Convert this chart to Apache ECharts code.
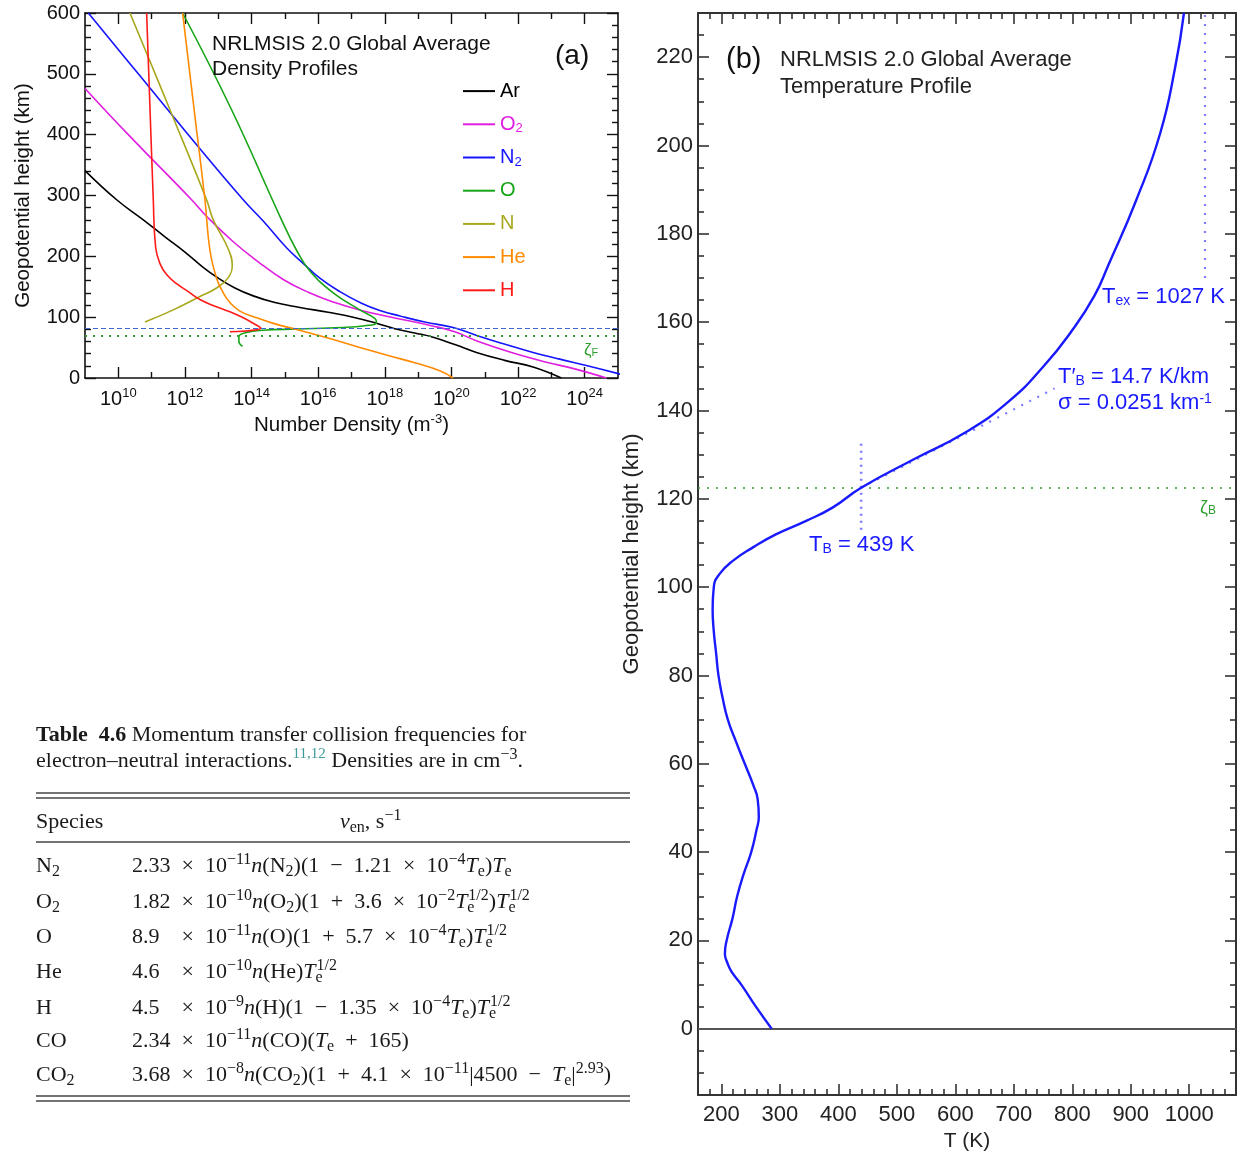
<!DOCTYPE html>
<html>
<head>
<meta charset="utf-8">
<script src="https://cdn.jsdelivr.net/npm/echarts@6/dist/echarts.min.js"></script>
<style>
  html, body { margin: 0; padding: 0; background: #fff; }
  #main { width: 1238px; height: 1153px; }
</style>
</head>
<body>
<div id="main"></div>
<script>
// (a) density profiles: [log10 n (m^-3), height km]
const species = ['Ar', 'O2', 'N2', 'O', 'N', 'He', 'H'];
const speciesColors = ['#000000', '#e01ee0', '#1414ff', '#18a418', '#a8a81c', '#ff8a00', '#ff1a1a'];

const ar = [[9.0,341],[9.95,293],[10.75,260],[11.4,232],[12.0,207],[12.5,184],[12.95,166],[13.5,148],[14.05,135],[14.7,124],[15.45,116],[16.3,108],[17.05,100],[17.75,90],[18.3,81],[18.9,74],[19.45,67],[20.1,55],[20.75,42],[21.6,29],[22.45,18],[23.3,0]];
const o2 = [[9.0,476],[10.3,400],[12.2,293],[12.7,263],[13.45,224],[14.2,191],[14.95,162],[15.7,141],[16.5,124],[17.3,111],[18.2,100],[19.4,86],[20.1,76],[20.85,59],[21.85,41],[22.85,26],[23.7,15],[24.65,0]];
const n2 = [[9.1,600],[10.6,500],[12.1,400],[13.75,293],[14.35,258],[15.05,214],[15.5,191],[16.05,164],[16.65,142],[17.3,123],[17.85,111],[18.45,102],[19.2,92],[20.05,83],[20.7,71],[21.45,58],[22.45,42],[23.25,31],[24.05,20.5],[24.95,8],[25.5,0]];
const o = [[11.93,600],[13.4,441],[14.9,260],[15.35,210],[15.75,176],[16.45,140],[17.25,112],[17.7,98],[17.75,91],[17.4,86],[16.7,83],[15.35,80.5],[14.35,78.5],[13.85,75],[13.62,68],[13.62,60],[13.73,52]];
const n = [[10.35,600],[11.55,441],[12.65,293],[12.85,260],[13.3,212],[13.42,185],[13.3,165],[12.95,148],[12.45,134],[11.65,112],[10.8,92]];
const he = [[11.93,600],[12.3,430],[12.6,293],[12.75,210],[12.95,164],[13.15,140],[13.35,124],[13.65,110],[14.1,100],[14.7,89],[15.4,79],[16.4,64],[17.2,51],[18.1,37],[18.9,25],[19.65,12],[20.05,0]];
const h = [[10.85,600],[11.05,293],[11.12,215],[11.25,188],[11.45,170],[11.75,155],[12.1,142],[12.45,129],[12.9,118],[13.35,109],[13.75,99],[14.05,90],[14.28,82],[13.35,76]];
const densities = [ar, o2, n2, o, n, he, h];
const turbopauseKm = 81;   // blue dashed
const zetaF = 69;          // green dotted

// (b) temperature profile: [T (K), height km]
const tempProfile = [[286,0],[259,5],[234,10],[217,13],[210,15],[206,17],[209,20],[219,25],[227,30],[238,35],[251,40],[260,45],[264,48],[262,52],[255,55],[240,60],[225,65],[211,70],[202,75],[195,80],[191,85],[187,90],[185,95],[187,100],[197,103],[220,106],[254,109],[294,112],[345,115],[390,118],[439,122.5],[530,129],[617,135],[691,142],[751,150],[799,158],[838,166],[862,173],[909,187.5],[950,202.6],[976,217.7],[991,230]];
const Tex = 1027, TB = 439, zetaB = 122.5, dTdz = 14.7;

// tick values
function range(a, b, step) { const out = []; for (let v = a; v <= b + 1e-9; v += step) out.push(+v.toFixed(4)); return out; }
const aMajorX = range(10, 24, 2);
const aMinorX = range(11, 23, 2);
const bMajorX = range(200, 1000, 100);
const bMinorX = range(180, 1060, 20).filter(v => v % 100 !== 0);
const bMajorY = range(0, 220, 20);
const bMinorY = range(-10, 225, 5).filter(v => v % 20 !== 0);

const FONT = 'Liberation Sans';
const SERIF = 'Liberation Serif';
const AX = '#111';

function axis(grid, pos, min, max, ticks, len, extra) {
    return Object.assign({
        type: 'value', gridIndex: grid, position: pos, min: min, max: max,
        axisLine: { show: true, onZero: false, lineStyle: { color: AX, width: 1.6 } },
        axisTick: { show: true, inside: true, length: len, customValues: ticks, lineStyle: { color: AX, width: 1.4 } },
        axisLabel: { show: false },
        splitLine: { show: false }
    }, extra || {});
}

const supRich = { s: { fontSize: 13, fontFamily: FONT, verticalAlign: 'top', lineHeight: 13, color: '#111' } };

const xAxes = [
    axis(0, 'bottom', 9, 25, aMajorX, 11, {
        axisLabel: { show: true, customValues: aMajorX, margin: 9, fontSize: 20, fontFamily: FONT, color: '#111', lineHeight: 25,
            formatter: v => '10{s|' + v + '}', rich: supRich },
        name: 'Number Density (m{s|-3})', nameLocation: 'middle', nameGap: 30,
        nameTextStyle: { fontSize: 20.5, fontFamily: FONT, color: '#111', lineHeight: 25, rich: supRich }
    }),
    axis(0, 'bottom', 9, 25, aMinorX, 6, { axisLine: { show: false, onZero: false } }),
    axis(0, 'top', 9, 25, aMajorX, 11),
    axis(0, 'top', 9, 25, aMinorX, 6, { axisLine: { show: false, onZero: false } }),
    axis(1, 'bottom', 160, 1080, bMajorX, 11, {
        axisLabel: { show: true, customValues: bMajorX, margin: 9, fontSize: 22, fontFamily: FONT, color: '#222',
            formatter: v => String(v) },
        name: 'T (K)', nameLocation: 'middle', nameGap: 33,
        nameTextStyle: { fontSize: 21, fontFamily: FONT, color: '#222' }
    }),
    axis(1, 'bottom', 160, 1080, bMinorX, 6, { axisLine: { show: false, onZero: false } }),
    axis(1, 'top', 160, 1080, bMajorX, 11),
    axis(1, 'top', 160, 1080, bMinorX, 6, { axisLine: { show: false, onZero: false } })
];
// panel (b) frame is slightly greyer
[4, 5, 6, 7].forEach(i => {
    xAxes[i].axisLine.lineStyle = { color: '#333', width: 2 };
    xAxes[i].axisTick.lineStyle = { color: '#333', width: 1.6 };
});

const yAxes = [
    {
        type: 'value', gridIndex: 0, position: 'left', min: 0, max: 600, interval: 100,
        axisLine: { show: true, onZero: false, lineStyle: { color: AX, width: 1.6 } },
        axisTick: { show: true, inside: true, length: 11, lineStyle: { color: AX, width: 1.4 } },
        minorTick: { show: true, splitNumber: 5, length: 6, lineStyle: { color: AX, width: 1.4 } },
        axisLabel: { show: true, margin: 5, fontSize: 20, fontFamily: FONT, color: '#111' },
        splitLine: { show: false },
        name: 'Geopotential height (km)', nameLocation: 'middle', nameRotate: 90, nameGap: 51,
        nameTextStyle: { fontSize: 20.5, fontFamily: FONT, color: '#111' }
    },
    {
        type: 'value', gridIndex: 0, position: 'right', min: 0, max: 600, interval: 100,
        axisLine: { show: true, onZero: false, lineStyle: { color: AX, width: 1.6 } },
        axisTick: { show: true, inside: true, length: 11, lineStyle: { color: AX, width: 1.4 } },
        minorTick: { show: true, splitNumber: 5, length: 6, lineStyle: { color: AX, width: 1.4 } },
        axisLabel: { show: false }, splitLine: { show: false }
    },
    axis(1, 'left', -15, 230, bMajorY, 11, {
        axisLabel: { show: true, customValues: bMajorY, margin: 5, fontSize: 22, fontFamily: FONT, color: '#222' },
        name: 'Geopotential height (km)', nameLocation: 'middle', nameRotate: 90, nameGap: 55,
        nameTextStyle: { fontSize: 22, fontFamily: FONT, color: '#222' }
    }),
    axis(1, 'left', -15, 230, bMinorY, 6, { axisLine: { show: false, onZero: false } }),
    axis(1, 'right', -15, 230, bMajorY, 11),
    axis(1, 'right', -15, 230, bMinorY, 6, { axisLine: { show: false, onZero: false } })
];
[2, 3, 4, 5].forEach(i => {
    yAxes[i].axisLine.lineStyle = { color: '#333', width: 2 };
    yAxes[i].axisTick.lineStyle = { color: '#333', width: 1.6 };
});

const BLUE = '#1a1aff';
const DOT_BLUE = '#7c7cff';
const GREEN = '#2e9e2e';

const series = species.map((s, i) => ({
    name: s, type: 'line', xAxisIndex: 0, yAxisIndex: 0,
    data: densities[i], showSymbol: false, smooth: 0.45, silent: true,
    lineStyle: { width: 1.6, color: speciesColors[i] },
    itemStyle: { color: speciesColors[i] }
}));
series[0].markLine = {
    symbol: 'none', silent: true, label: { show: false },
    data: [
        { yAxis: turbopauseKm, lineStyle: { type: [5, 3], color: '#4068cc', width: 1.2 } },
        { yAxis: zetaF, lineStyle: { type: [2, 6], color: GREEN, width: 2 } }
    ]
};

series.push({
    name: 'T', type: 'line', xAxisIndex: 4, yAxisIndex: 2,
    data: tempProfile, showSymbol: false, smooth: 0.5, silent: true, z: 5,
    lineStyle: { width: 2.4, color: BLUE },
    markLine: {
        symbol: 'none', silent: true, label: { show: false },
        data: [
            { yAxis: 0, lineStyle: { type: 'solid', color: '#555', width: 2.2 } },
            { yAxis: zetaB, lineStyle: { type: [2, 7], color: GREEN, width: 1.5 } }
        ]
    }
});
series.push({
    name: 'Tex', type: 'line', xAxisIndex: 4, yAxisIndex: 2, silent: true, showSymbol: false,
    data: [[Tex, 170], [Tex, 230]], lineStyle: { type: [2, 7], color: DOT_BLUE, width: 2.2 }
});
series.push({
    name: 'TB', type: 'line', xAxisIndex: 4, yAxisIndex: 2, silent: true, showSymbol: false,
    data: [[TB, 113], [TB, 133]], lineStyle: { type: [2, 5], color: DOT_BLUE, width: 2.6 }
});
series.push({
    name: 'slope', type: 'line', xAxisIndex: 4, yAxisIndex: 2, silent: true, showSymbol: false,
    data: [[TB, zetaB], [TB + dTdz * 22.5, zetaB + 22.5]], lineStyle: { type: [2, 7], color: DOT_BLUE, width: 2.2 }
});

// text helpers
function txt(x, y, text, opt) {
    return {
        type: 'text', x: x, y: y, z: 100, silent: true,
        style: Object.assign({ text: text, fontSize: 19, fontFamily: FONT, fill: '#111', verticalAlign: 'middle' }, opt || {})
    };
}
function sansRich(color, size) {
    return {
        sub: { fontSize: size || 14, fontFamily: FONT, fill: color, verticalAlign: 'bottom', lineHeight: 13 },
        sup: { fontSize: size || 14, fontFamily: FONT, fill: color, verticalAlign: 'top', lineHeight: 13 }
    };
}
const INK = '#1a1a1a';
const serifRich = {
    b: { fontSize: 22, fontFamily: SERIF, fontWeight: 'bold', fill: INK },
    i: { fontSize: 22, fontFamily: SERIF, fontStyle: 'italic', fill: INK },
    sup: { fontSize: 16, fontFamily: SERIF, fill: INK, verticalAlign: 'top', lineHeight: 15 },
    sub: { fontSize: 16, fontFamily: SERIF, fill: INK, verticalAlign: 'bottom', lineHeight: 15 },
    se: { fontSize: 16, fontFamily: SERIF, fill: INK, verticalAlign: 'bottom', lineHeight: 15, width: 1 },
    ref: { fontSize: 15, fontFamily: SERIF, fill: '#3f9a9a', verticalAlign: 'top', lineHeight: 15 }
};
function ser(x, y, text) {
    return txt(x, y, text, { fontSize: 22, fontFamily: SERIF, fill: INK, lineHeight: 28, rich: serifRich });
}
function rule(y) {
    return { type: 'line', z: 100, silent: true, shape: { x1: 36, y1: y, x2: 630, y2: y }, style: { stroke: '#444', lineWidth: 1.4 } };
}
// wider spacing around binary operators, as in typeset math
function mathSp(s) { return s.replace(/ ([×−+]) /g, '\u2002$1\u2002'); }

const tableSpecies = ['N{sub|2}', 'O{sub|2}', 'O', 'He', 'H', 'CO', 'CO{sub|2}'];
const tableFormulas = [
    '2.33 × 10{sup|−11}{i|n}(N{sub|2})(1 − 1.21 × 10{sup|−4}{i|T}{sub|e}){i|T}{sub|e}',
    '1.82 × 10{sup|−10}{i|n}(O{sub|2})(1 + 3.6 × 10{sup|−2}{i|T}{se|e}{sup|1/2}){i|T}{se|e}{sup|1/2}',
    '8.9\u2007 × 10{sup|−11}{i|n}(O)(1 + 5.7 × 10{sup|−4}{i|T}{sub|e}){i|T}{se|e}{sup|1/2}',
    '4.6\u2007 × 10{sup|−10}{i|n}(He){i|T}{se|e}{sup|1/2}',
    '4.5\u2007 × 10{sup|−9}{i|n}(H)(1 − 1.35 × 10{sup|−4}{i|T}{sub|e}){i|T}{se|e}{sup|1/2}',
    '2.34 × 10{sup|−11}{i|n}(CO)({i|T}{sub|e} + 165)',
    '3.68 × 10{sup|−8}{i|n}(CO{sub|2})(1 + 4.1 × 10{sup|−11}|4500 − {i|T}{sub|e}|{sup|2.93})'
];
const tableRowY = [866, 902, 937, 972, 1008, 1041, 1075];

const graphic = [
    // panel (a)
    txt(212, 32, 'NRLMSIS 2.0 Global Average\nDensity Profiles', { verticalAlign: 'top', lineHeight: 25, fontSize: 21 }),
    txt(555, 56, '(a)', { fontSize: 28 }),
    txt(584, 350, 'ζ{sub|F}', { fontSize: 17, fill: GREEN, rich: sansRich(GREEN, 11) }),
    // panel (b)
    txt(726, 60, '(b)', { fontSize: 29 }),
    txt(780, 46, 'NRLMSIS 2.0 Global Average\nTemperature Profile', { verticalAlign: 'top', lineHeight: 27, fontSize: 22, fill: '#222' }),
    txt(1102, 297, 'T{sub|ex} = 1027 K', { fontSize: 22, fill: BLUE, rich: sansRich(BLUE) }),
    txt(1058, 377, 'T′{sub|B} = 14.7 K/km', { fontSize: 22, fill: BLUE, rich: sansRich(BLUE) }),
    txt(1058, 403, 'σ = 0.0251 km{sup|-1}', { fontSize: 22, fill: BLUE, rich: sansRich(BLUE) }),
    txt(809, 545, 'T{sub|B} = 439 K', { fontSize: 22, fill: BLUE, rich: sansRich(BLUE) }),
    txt(1200, 508, 'ζ{sub|B}', { fontSize: 18, fill: GREEN, rich: sansRich(GREEN, 12) }),
    // table
    ser(36, 735, '{b|Table  4.6} Momentum transfer collision frequencies for'),
    ser(36, 761, 'electron–neutral interactions.{ref|11,12} Densities are in cm{sup|−3}.'),
    rule(793), rule(798),
    ser(36, 822, 'Species'),
    ser(340, 822, '{i|ν}{sub|en}, s{sup|−1}'),
    rule(842),
    rule(1096), rule(1101)
];
tableSpecies.forEach((s, i) => {
    graphic.push(ser(36, tableRowY[i], s));
    graphic.push(ser(132, tableRowY[i], mathSp(tableFormulas[i])));
});

const option = {
    animation: false,
    backgroundColor: '#fff',
    textStyle: { fontFamily: FONT },
    grid: [
        { left: 85, top: 13, width: 533, height: 365, outerBoundsMode: 'none' },
        { left: 698, top: 13, width: 538, height: 1082, outerBoundsMode: 'none' }
    ],
    legend: {
        left: 458, top: 75, orient: 'vertical', icon: 'rect',
        itemWidth: 32, itemHeight: 2, itemGap: 11, selectedMode: false,
        data: species.map((s, i) => ({ name: s, textStyle: { color: speciesColors[i] } })),
        formatter: name => name.replace(/(\d)$/, '{s|$1}'),
        textStyle: { fontSize: 20, fontFamily: FONT, lineHeight: 22.2,
            rich: { s: { fontSize: 13, fontFamily: FONT, verticalAlign: 'bottom', lineHeight: 12 } } }
    },
    xAxis: xAxes,
    yAxis: yAxes,
    series: series,
    graphic: graphic
};

const chart = echarts.init(document.getElementById('main'), null, { renderer: 'canvas' });
chart.setOption(option);
</script>
</body>
</html>
